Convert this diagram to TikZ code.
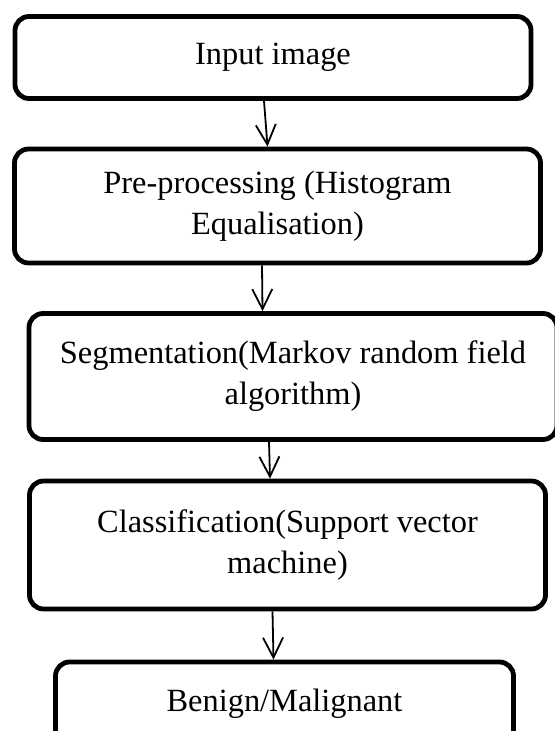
\documentclass[tikz,border=0pt]{standalone}
\usepackage{fontspec}
\setmainfont{Liberation Serif}
\usetikzlibrary{arrows.meta}
\begin{document}
\begin{tikzpicture}[x=0.5pt,y=-0.5pt,
        stage/.style={draw, line width=2.4pt, rounded corners=7pt, align=center,
            inner sep=0pt, font=\fontsize{16.2}{20.5}\selectfont},
        flow/.style={line width=0.9pt, -{Straight Barb[length=10pt,width=10pt,line width=0.9pt]}}]
            \useasboundingbox (0,0) rectangle (554,731);
            \node[stage, minimum width=258pt, minimum height=41pt] (inp) at (273,57.5) {Input image};
            \node[stage, minimum width=263pt, minimum height=57pt] (pre) at (277.5,206) {Pre-processing (Histogram\\Equalisation)};
            \node[stage, minimum width=264pt, minimum height=63pt] (seg) at (293,376.5) {Segmentation(Markov random field\\algorithm)};
            \node[stage, minimum width=258pt, minimum height=64pt] (cls) at (287.5,545) {Classification(Support vector\\machine)};
            \node[stage, minimum width=229pt, minimum height=42pt] (res) at (284.5,704) {Benign/Malignant};
            
            \draw[flow] ([xshift=-4.5pt]inp.south) -- ([xshift=-5pt]pre.north);
            \draw[flow] ([xshift=-7.75pt]pre.south) -- ([xshift=-15.25pt]seg.north);
            \draw[flow] ([xshift=-12pt]seg.south) -- ([xshift=-8.75pt]cls.north);
            \draw[flow] ([xshift=-7.5pt]cls.south) -- ([xshift=-5.5pt]res.north);
        \end{tikzpicture}
\end{document}
